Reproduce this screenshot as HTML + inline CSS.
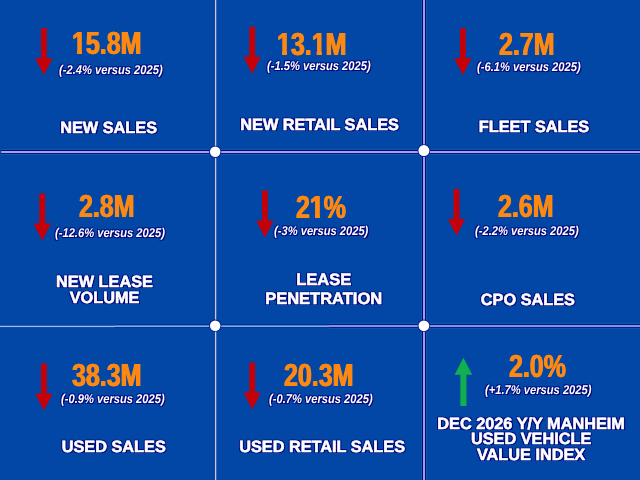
<!DOCTYPE html>
<html>
<head>
<meta charset="utf-8">
<title>Auto Sales Forecast</title>
<style>
html,body{margin:0;padding:0;}
body{width:640px;height:480px;overflow:hidden;background:#0247a6;font-family:"Liberation Sans",sans-serif;position:relative;}
.num{position:absolute;font-weight:bold;font-size:32px;line-height:32px;color:#fd8812;white-space:nowrap;transform-origin:0 50%;transform:scaleX(0.78);text-rendering:geometricPrecision;text-shadow:0.7px 0 0 #fd8812,-0.7px 0 0 #fd8812;}
.sub{position:absolute;font-style:italic;font-weight:bold;font-size:12.2px;line-height:14px;color:#fff;white-space:nowrap;transform-origin:0 50%;transform:scale(0.916,1.04);text-rendering:geometricPrecision;text-shadow:1.2px 1.2px 0.5px rgba(0,5,120,1),-1px -1px 0.6px rgba(0,5,120,0.8),1px -1px 0.6px rgba(0,5,120,0.8),-1px 1px 0.6px rgba(0,5,120,0.8);}
.lab{position:absolute;font-weight:bold;font-size:16.3px;line-height:15.7px;color:#fff;white-space:nowrap;text-align:center;text-rendering:geometricPrecision;text-shadow:1.3px 1.3px 0.5px rgba(0,5,120,1),-1.2px -1.2px 0.6px rgba(0,5,120,0.9),1.2px -1.2px 0.6px rgba(0,5,120,0.9),-1.2px 1.2px 0.6px rgba(0,5,120,0.9);-webkit-text-stroke:0.62px #fff;transform:translateX(-50%);}
svg{position:absolute;overflow:visible;}
.o{display:inline-block;clip-path:polygon(-10% -10%,110% -10%,110% 22.6px,12.75px 22.6px,12.75px 110%,6.6px 110%,6.6px 22.6px,-10% 22.6px);}
</style>
</head>
<body>
<!-- grid lines -->
<svg width="640" height="480" style="left:0;top:0" viewBox="0 0 640 480">
  <!-- vertical 1 -->
  <rect x="213.9" y="0" width="1" height="480" fill="#001888" fill-opacity="0.5"/>
  <rect x="214.88" y="0" width="1.38" height="480" fill="#c0c9e6"/>
  <!-- vertical 2 -->
  <rect x="421" y="0" width="6" height="480" fill="#fff" fill-opacity="0.07"/>
  <rect x="422" y="0" width="1" height="480" fill="#00008c"/>
  <rect x="425" y="0" width="1" height="480" fill="#000896"/>
  <rect x="423" y="0" width="2" height="480" fill="#9aa4d0"/>
  <!-- horizontal 1 -->
  <rect x="1" y="149" width="639" height="6" fill="#fff" fill-opacity="0.07"/>
  <rect x="1" y="150" width="639" height="1" fill="#00008c"/>
  <rect x="1" y="153" width="639" height="1" fill="#001090"/>
  <rect x="1.2" y="151" width="638.8" height="2.05" fill="#a0a8d4"/>
  <!-- horizontal 2 -->
  <rect x="0" y="325.1" width="115" height="0.9" fill="#a4b8e0" fill-opacity="0.25"/>
  <rect x="0" y="326" width="115" height="1.06" fill="#a4b8e0"/>
  <rect x="115" y="324" width="214" height="1" fill="#001090" fill-opacity="0.32"/>
  <rect x="115" y="327" width="214" height="1" fill="#001090" fill-opacity="0.32"/>
  <rect x="115" y="325" width="214" height="1" fill="#98b4de" fill-opacity="0.5"/>
  <rect x="115" y="326" width="214" height="1" fill="#98b4de" fill-opacity="0.9"/>
  <rect x="329" y="323" width="311" height="6" fill="#fff" fill-opacity="0.06"/>
  <rect x="329" y="324" width="311" height="1" fill="#0014a0"/>
  <rect x="329" y="327" width="311" height="1" fill="#0014a0"/>
  <rect x="329" y="325" width="311" height="2.06" fill="#8296ca"/>
  <!-- dots -->
  <g>
    <circle cx="215.2" cy="151.8" r="6.15" fill="#0a1a90"/><circle cx="215.2" cy="151.8" r="5.25" fill="#fff"/>
    <circle cx="423.9" cy="150.6" r="6.4" fill="#0a1a90"/><circle cx="423.9" cy="150.6" r="5.5" fill="#fff"/>
    <circle cx="215.2" cy="325.7" r="6.15" fill="#0a1a90"/><circle cx="215.2" cy="325.7" r="5.25" fill="#fff"/>
    <circle cx="423.9" cy="325.8" r="6.3" fill="#0a1a90"/><circle cx="423.9" cy="325.8" r="5.4" fill="#fff"/>
  </g>
</svg>

<!-- arrows -->
<svg width="640" height="480" style="left:0;top:0" viewBox="0 0 640 480">
  <defs>
    <path id="dn" d="M-2.9,0 H2.9 V30.1 H8.65 L0,46.9 L-8.65,30.1 H-2.9 Z" fill="#c60009"/>
    <path id="up" d="M0,0 L8.8,17 H3.05 V48.2 H-3.05 V17 H-8.8 Z" fill="#10b050"/>
  </defs>
  <use href="#dn" x="43.9" y="28.1"/>
  <use href="#dn" x="252.2" y="26.75"/>
  <use href="#dn" x="462.85" y="28.2"/>
  <use href="#dn" x="42.2" y="193.5"/>
  <use href="#dn" x="264.9" y="190.6"/>
  <use href="#dn" x="456.5" y="188.9"/>
  <use href="#dn" x="43.9" y="363.6"/>
  <use href="#dn" x="252.2" y="362.5"/>
  <use href="#up" x="463.4" y="357.7"/>
</svg>

<div id="txt" style="position:absolute;left:0;top:0;width:640px;height:480px;will-change:transform;">
<!-- cell 1 -->
<div class="num" style="left:71.65px;top:27.0px;"><span class="o">1</span>5.8M</div>
<div class="sub" style="left:59.30px;top:62.5px;">(-2.4% versus 2025)</div>
<div class="lab" style="left:108.65px;top:120.5px;">NEW SALES</div>
<!-- cell 2 -->
<div class="num" style="left:276.60px;top:28.0px;"><span class="o">1</span>3.<span class="o">1</span>M</div>
<div class="sub" style="left:266.50px;top:59.0px;">(-1.5% versus 2025)</div>
<div class="lab" style="left:319.60px;top:118.3px;">NEW RETAIL SALES</div>
<!-- cell 3 -->
<div class="num" style="left:499.45px;top:28.0px;">2.7M</div>
<div class="sub" style="left:477.20px;top:59.5px;">(-6.1% versus 2025)</div>
<div class="lab" style="left:534.00px;top:119.6px;">FLEET SALES</div>
<!-- cell 4 -->
<div class="num" style="left:79.05px;top:190.0px;">2.8M</div>
<div class="sub" style="left:54.55px;top:226.2px;">(-12.6% versus 2025)</div>
<div class="lab" style="left:104.50px;top:275.1px;">NEW LEASE<br>VOLUME</div>
<!-- cell 5 -->
<div class="num" style="left:295.70px;top:191.0px;">2<span class="o">1</span>%</div>
<div class="sub" style="left:273.95px;top:224.0px;">(-3% versus 2025)</div>
<div class="lab" style="left:323.70px;top:270.5px;line-height:19.5px;font-size:16.5px;">LEASE<br>PENETRATION</div>
<!-- cell 6 -->
<div class="num" style="left:497.70px;top:190.0px;">2.6M</div>
<div class="sub" style="left:475.25px;top:224.0px;">(-2.2% versus 2025)</div>
<div class="lab" style="left:527.90px;top:293.3px;">CPO SALES</div>
<!-- cell 7 -->
<div class="num" style="left:72.05px;top:359.0px;">38.3M</div>
<div class="sub" style="left:61.05px;top:392.3px;">(-0.9% versus 2025)</div>
<div class="lab" style="left:113.75px;top:440.3px;">USED SALES</div>
<!-- cell 8 -->
<div class="num" style="left:283.70px;top:359.0px;">20.3M</div>
<div class="sub" style="left:269.00px;top:391.5px;">(-0.7% versus 2025)</div>
<div class="lab" style="left:322.10px;top:439.7px;">USED RETAIL SALES</div>
<!-- cell 9 -->
<div class="num" style="left:509.05px;top:350.0px;">2.0%</div>
<div class="sub" style="left:484.95px;top:383.4px;">(+1.7% versus 2025)</div>
<div class="lab" style="left:531.10px;top:416.6px;">DEC 2026 Y/Y MANHEIM<br>USED VEHICLE<br>VALUE INDEX</div>
</div>
</body>
</html>
